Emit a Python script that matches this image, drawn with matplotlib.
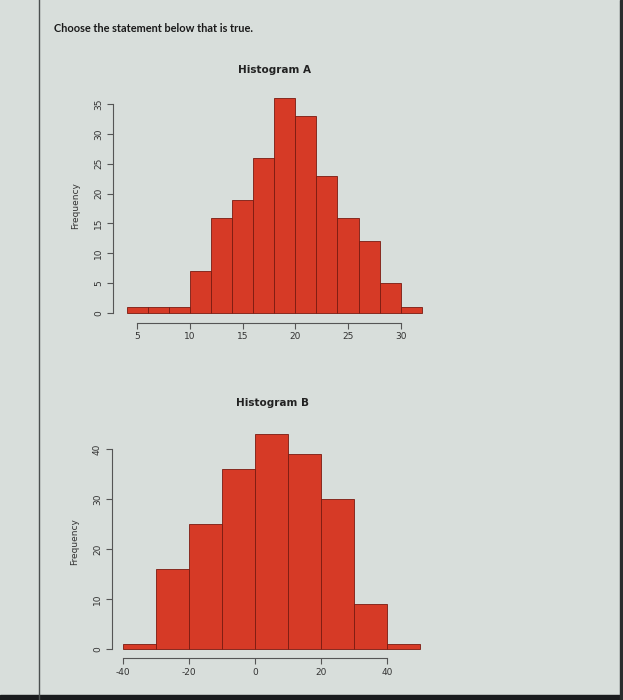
import numpy as np
import matplotlib
matplotlib.use("Agg")
import matplotlib.pyplot as plt

# Histogram A: bin edges 4..32 step 2
a_edges = [4, 6, 8, 10, 12, 14, 16, 18, 20, 22, 24, 26, 28, 30, 32]
a_counts = [1, 1, 1, 7, 16, 19, 26, 36, 33, 23, 16, 12, 5, 1]
a_xticks = [5, 10, 15, 20, 25, 30]
a_yticks = [0, 5, 10, 15, 20, 25, 30, 35]

# Histogram B: bin edges -40..50 step 10
b_edges = [-40, -30, -20, -10, 0, 10, 20, 30, 40, 50]
b_counts = [1, 16, 25, 36, 43, 39, 30, 9, 1]
b_xticks = [-40, -20, 0, 20, 40]
b_yticks = [0, 10, 20, 30, 40]

bg = "#d8dedb"
bar_col = "#d63a26"
edge_col = "#7a1a10"
axis_col = "#555555"

fig = plt.figure(figsize=(6.23, 7), dpi=100)
fig.patch.set_facecolor(bg)

# screen frame bits from the photo
fig.add_artist(plt.Line2D([39 / 623, 39 / 623], [0, 1], color="#4a4f4f", lw=1.0))
fig.add_artist(plt.Rectangle((0, 0), 1, 5 / 700, color="#1a1c1e", transform=fig.transFigure))
fig.add_artist(plt.Rectangle((620 / 623, 0), 3 / 623, 1, color="#2a2d2e", transform=fig.transFigure))

fig.text(54 / 623, 1 - 28 / 700, "Choose the statement below that is true.",
         fontsize=7.9, fontweight="bold", color="#1a1a1a", family="Lato", va="center")


def draw_hist(rect, edges, counts, xlim, ylim, xticks, yticks, title, title_xy):
    ax = fig.add_axes(rect)
    ax.set_facecolor("none")
    widths = np.diff(edges)
    ax.bar(edges[:-1], counts, width=widths, align="edge",
           color=bar_col, edgecolor=edge_col, linewidth=0.6)
    ax.set_xlim(*xlim)
    ax.set_ylim(*ylim)
    for s in ["top", "right"]:
        ax.spines[s].set_visible(False)
    for s in ["left", "bottom"]:
        ax.spines[s].set_color(axis_col)
        ax.spines[s].set_linewidth(0.8)
    ax.spines["left"].set_bounds(yticks[0], yticks[-1])
    ax.spines["bottom"].set_bounds(xticks[0], xticks[-1])
    ax.set_xticks(xticks)
    ax.set_yticks(yticks)
    ax.set_xticklabels([str(t) for t in xticks], fontsize=6.5)
    ax.set_yticklabels([str(t) for t in yticks], fontsize=6.5, rotation=90, va="center")
    ax.tick_params(colors=axis_col, labelcolor="#333333", length=4, width=0.8, pad=3)
    ax.set_ylabel("Frequency", fontsize=6.5, color="#333333", labelpad=10)
    fig.text(title_xy[0] / 623, 1 - title_xy[1] / 700, title, fontsize=7.5,
             fontweight="bold", ha="center", va="center", color="#222222")
    return ax


draw_hist([113 / 623, 1 - 322.7 / 700, 320.4 / 623, 233.7 / 700],
          a_edges, a_counts, (2.7, 33.1), (-1.6, 37.5), a_xticks, a_yticks,
          "Histogram A", (275, 70))

draw_hist([111.7 / 623, 1 - 658.3 / 700, 320.2 / 623, 234 / 700],
          b_edges, b_counts, (-43.5, 53.5), (-1.8, 45), b_xticks, b_yticks,
          "Histogram B", (273, 403))

fig.savefig("out.png", dpi=100, facecolor=fig.get_facecolor())
